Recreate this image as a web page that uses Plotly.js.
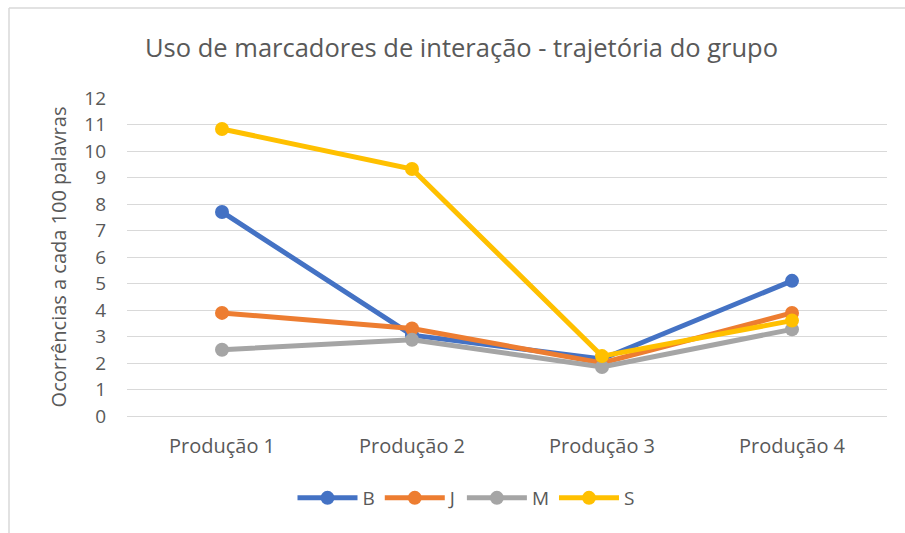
<!DOCTYPE html>
<html>
<head>
<meta charset="utf-8">
<script src="https://cdn.plot.ly/plotly-3.0.1.min.js"></script>
<style>
html,body{margin:0;padding:0;background:#fff;}
#chart{width:905px;height:533px;}
</style>
</head>
<body>
<div id="chart"></div>
<script>
const categories = ["Produção 1", "Produção 2", "Produção 3", "Produção 4"];
const seriesNames = ["B", "J", "M", "S"];
const valuesB = [7.7, 3.05, 2.15, 5.1];
const valuesJ = [3.89, 3.3, 2.0, 3.89];
const valuesM = [2.5, 2.88, 1.85, 3.27];
const valuesS = [10.83, 9.32, 2.26, 3.6];
const yTicks = [0,1,2,3,4,5,6,7,8,9,10,11,12];

const colors = ["#4472C4", "#ED7D31", "#A5A5A5", "#FFC000"];
const allValues = [valuesB, valuesJ, valuesM, valuesS];

const traces = allValues.map((v, i) => ({
  x: categories,
  y: v,
  name: seriesNames[i],
  type: "scatter",
  mode: "lines+markers",
  line: {color: colors[i], width: 5},
  marker: {color: colors[i], size: 14}
}));

// pixel → paper helpers
const L = 127, R = 18, T = 98, B = 117, W = 905, H = 533;
const pw = W - L - R, ph = H - T - B;
const px = v => (v - L) / pw;
const py = v => (H - B - v) / ph;

const layout = {
  width: W, height: H,
  margin: {l: L, r: R, t: T, b: B},
  paper_bgcolor: "#fff", plot_bgcolor: "#fff",
  font: {family: "Open Sans, Liberation Sans, sans-serif", color: "#595959", size: 19},
  title: {text: "Uso de marcadores de interação - trajetória do grupo", font: {size: 25.5, color: "#595959"}, x: 0.51, xanchor: "center", y: 0.91, yanchor: "middle"},
  xaxis: {type: "category", range: [-0.5, 3.5], showgrid: false, zeroline: false, showline: false, ticks: "", ticklabelstandoff: 16, tickfont: {size: 20, color: "#595959"}},
  yaxis: {range: [0, 12], tickvals: yTicks, ticktext: yTicks.map(String), showgrid: true, gridcolor: "#D9D9D9", gridwidth: 1, zeroline: true, zerolinecolor: "#D9D9D9", zerolinewidth: 1, showline: false, ticks: "", ticklabelstandoff: 20, tickfont: {size: 19, color: "#595959"},
    title: {text: "Ocorrências a cada 100 palavras", font: {size: 20, color: "#595959"}, standoff: 12}},
  legend: {orientation: "h", x: px(466), xanchor: "center", y: py(498), yanchor: "middle", font: {size: 19, color: "#595959"}, traceorder: "normal", itemwidth: 60},
  showlegend: true,
  shapes: [
    {type: "line", xref: "paper", yref: "paper", x0: px(9), x1: px(910), y0: py(8), y1: py(8), line: {color: "#D9D9D9", width: 1.5}},
    {type: "line", xref: "paper", yref: "paper", x0: px(9), x1: px(9), y0: py(8), y1: py(540), line: {color: "#D9D9D9", width: 1.5}}
  ]
};

Plotly.newPlot("chart", traces, layout, {displayModeBar: false, staticPlot: true});
</script>
</body>
</html>
